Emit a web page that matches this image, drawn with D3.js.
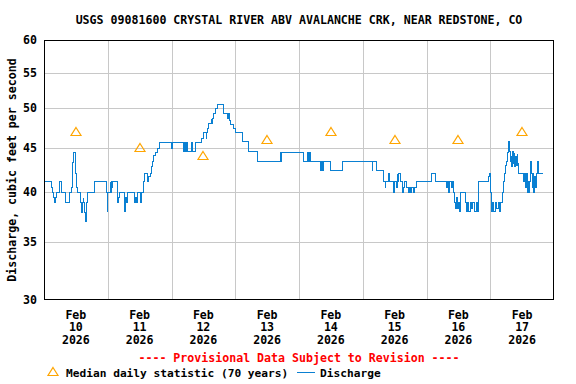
<!DOCTYPE html>
<html>
<head>
<meta charset="utf-8">
<script src="https://cdn.jsdelivr.net/npm/d3@7"></script>
<style>
  body { margin: 0; background: #fff; }
  svg text { font-family: "DejaVu Sans Mono", monospace; font-weight: bold; font-size: 11.6px; fill: #000; }
  svg text.legend { font-size: 11.2px; }
</style>
</head>
<body>
<div id="chart"></div>
<script>
const title = "USGS 09081600 CRYSTAL RIVER ABV AVALANCHE CRK, NEAR REDSTONE, CO";
const yLabel = "Discharge, cubic feet per second";
const provisional = "---- Provisional Data Subject to Revision ----";
const yTicks = [30, 35, 40, 45, 50, 55, 60];
const dayLabels = [
  ["Feb", "10", "2026"], ["Feb", "11", "2026"], ["Feb", "12", "2026"], ["Feb", "13", "2026"],
  ["Feb", "14", "2026"], ["Feb", "15", "2026"], ["Feb", "16", "2026"], ["Feb", "17", "2026"]
];

// median daily statistic, one per day (plotted at noon)
const medianCfs = [47, 45, 44, 46, 47, 46, 46, 47];

// discharge, change points: hours since Feb 10 00:00 and value (cfs)
const flowHours = [
  0, 2.5, 2.9, 3.3, 3.75, 4.25, 4.5, 5.75, 6.5, 8.0, 9.5, 10.25, 10.4, 10.5, 10.65, 10.8,
  11.55, 11.8, 11.9, 12.15, 12.4, 13.55, 13.9, 14.3, 14.55, 14.8, 15.05, 15.55, 15.8, 16.1,
  18.95, 23.35, 23.55, 23.9, 24.75, 24.95, 25.2, 25.5, 25.7, 27.5, 27.65, 27.85, 28.05,
  30.1, 30.5, 30.75, 31.15, 33.9, 34.25, 34.5, 34.9, 36.15, 36.5, 37.25, 37.45, 37.75,
  38.9, 39.25, 39.9, 40.3, 40.55, 41.15, 41.8, 42.45, 43.3, 47.8, 48.3, 52.45, 52.8, 53.1,
  53.45, 53.7, 55.35, 55.6, 56.85, 59.0, 59.75, 60.9, 61.1, 61.5, 61.85, 62.75, 63.0,
  63.25, 63.5, 64.4, 65.0, 67.3, 69.0, 69.45, 69.65, 70.0, 71.25, 71.9, 74.45, 76.9,
  80.1, 80.3, 88.85, 89.1, 89.35, 97.6, 99.1, 99.4, 99.6, 100.15, 103.9, 104.4, 104.65,
  105.05, 107.65, 112.3, 123.35, 123.65, 124.9, 127.75, 128.4, 128.55, 129.4, 129.75,
  131.25, 131.6, 131.9, 132.35, 132.8, 133.0, 133.25, 134.0, 134.8, 135.15, 135.65,
  136.3, 136.9, 137.4, 137.8, 138.15, 138.9, 139.3, 140.05, 145.7, 147.3, 151.35, 151.7,
  152.1, 152.45, 153.05, 153.6, 154.0, 154.35, 154.75, 155.1, 155.5, 155.85, 156.25,
  156.6, 158.5, 158.9, 159.25, 159.8, 160.4, 160.75, 161.3, 161.9, 162.45, 163.0, 163.5,
  167.25, 167.5, 167.9, 168.15, 168.55, 169.05, 169.6, 170.15, 170.75, 171.3, 171.65,
  172.3, 172.9, 173.3, 173.55, 173.95, 174.4, 174.8, 175.2, 175.45, 175.7, 175.95, 176.2,
  176.45, 176.75, 177.05, 177.3, 177.6, 177.9, 178.2, 178.55, 180.45, 180.7, 181.1,
  181.35, 181.7, 181.95, 182.2, 182.6, 182.95, 183.2, 183.6, 183.85, 184.1, 184.5,
  184.85, 185.2, 185.5, 186.1, 187.35
];
const flowCfs = [
  41.2, 40.6, 40.0, 39.5, 39.0, 39.5, 40.0, 41.2, 40.0, 39.0, 40.0, 40.6, 41.2, 42.1, 43.3, 44.5,
  43.3, 42.1, 41.2, 40.6, 40.0, 39.0, 37.9, 39.0, 39.5, 39.0, 37.9, 37.0, 39.0, 40.0,
  41.2, 40.0, 38.0, 40.0, 41.2, 40.0, 41.2, 40.6, 41.2, 40.0, 39.0, 39.5, 40.0,
  38.0, 39.5, 39.0, 40.0, 39.0, 39.5, 39.0, 40.0, 39.0, 40.0, 40.6, 41.2, 42.1,
  41.2, 41.8, 42.1, 42.9, 43.4, 44.1, 44.5, 45.0, 45.7, 45.0, 45.7, 44.6, 45.7, 44.6,
  45.7, 44.6, 45.7, 44.6, 45.7, 46.2, 46.9, 46.2, 46.9, 47.5, 48.1, 48.8, 48.1,
  48.8, 49.4, 50.0, 50.6, 49.4, 48.8, 49.4, 48.5, 48.0, 47.5, 46.9, 45.8, 44.6,
  44.0, 43.5, 44.5, 43.5, 44.5, 43.5, 44.5, 43.5, 44.5, 43.5, 42.4, 43.5, 42.4,
  43.5, 42.4, 43.5, 42.4, 43.5, 42.4, 41.2, 40.6, 41.2, 42.1, 41.2,
  40.0, 40.6, 41.2, 40.6, 42.1, 41.2, 42.1, 41.2, 40.0, 40.6, 41.2,
  40.6, 40.0, 40.6, 40.0, 40.6, 40.0, 40.6, 41.2, 42.1, 41.2, 40.6, 41.2,
  40.0, 41.2, 40.6, 41.2, 40.0, 39.0, 38.3, 39.5, 38.3, 39.0, 38.0,
  40.0, 39.0, 38.0, 39.0, 38.0, 39.0, 38.3, 39.0, 38.0, 39.0, 38.0, 41.2,
  41.8, 42.1, 40.0, 38.0, 39.0, 38.0, 39.0, 38.3, 39.0, 38.0, 39.0,
  40.0, 41.2, 42.1, 43.0, 43.5, 44.5, 45.8, 44.6, 43.5, 44.2, 42.9, 44.6,
  43.2, 44.4, 42.9, 44.0, 43.0, 44.4, 43.2, 42.1, 41.2, 42.1, 40.6,
  42.1, 40.0, 41.2, 40.0, 41.2, 43.4, 42.1, 40.6, 42.1, 40.0, 41.8,
  40.6, 42.1, 43.4, 42.1, 42.1
];

const width = 576, height = 384;
const margin = { top: 40, right: 22, bottom: 84, left: 44 };
const start = new Date(2026, 1, 10);
const end = new Date(2026, 1, 18);
const hour = 3600 * 1000;
const atHour = h => new Date(start.getTime() + h * hour);

const svg = d3.select("#chart").append("svg")
  .attr("width", width)
  .attr("height", height);

const x = d3.scaleTime()
  .domain([start, end])
  .range([margin.left, width - margin.right]);

const y = d3.scaleLog()
  .domain([30, 60])
  .range([height - margin.bottom, margin.top]);

const px = v => Math.round(v) + 0.5;

// grid
const days = d3.timeDay.range(d3.timeDay.offset(start, 1), end);
svg.append("g")
  .selectAll("line")
  .data(days)
  .join("line")
  .attr("x1", d => px(x(d))).attr("x2", d => px(x(d)))
  .attr("y1", margin.top).attr("y2", height - margin.bottom)
  .attr("stroke", "#c8c8c8")
  .attr("shape-rendering", "crispEdges");

svg.append("g")
  .selectAll("line")
  .data(yTicks.slice(1, -1))
  .join("line")
  .attr("x1", margin.left).attr("x2", width - margin.right)
  .attr("y1", d => px(y(d))).attr("y2", d => px(y(d)))
  .attr("stroke", "#c8c8c8")
  .attr("shape-rendering", "crispEdges");

// y tick labels
svg.append("g")
  .selectAll("text")
  .data(yTicks)
  .join("text")
  .attr("x", margin.left - 7)
  .attr("y", d => y(d) + 4)
  .attr("text-anchor", "end")
  .text(d => d);

// x labels, centred on noon of each day
const xl = svg.append("g")
  .selectAll("text")
  .data(dayLabels)
  .join("text")
  .attr("text-anchor", "middle");
xl.each(function(d, i) {
  const cx = x(atHour(i * 24 + 12));
  d3.select(this).selectAll("tspan")
    .data(d)
    .join("tspan")
    .attr("x", cx)
    .attr("y", (t, j) => 318.5 + j * 12.8)
    .text(t => t);
});

// discharge
const line = d3.line()
  .x((d, i) => Math.round(x(atHour(flowHours[i]))) + 0.5)
  .y(d => Math.round(y(d)) + 0.5)
  .curve(d3.curveStepAfter);

svg.append("path")
  .datum(flowCfs)
  .attr("d", line)
  .attr("fill", "none")
  .attr("stroke", "#0a80d2")
  .attr("stroke-width", 1)
  .attr("shape-rendering", "crispEdges");

// median triangles
const tri = "M0,-4.5L5,3.5L-5,3.5Z";
svg.append("g")
  .selectAll("path")
  .data(medianCfs)
  .join("path")
  .attr("transform", (d, i) => `translate(${Math.round(x(atHour(i * 24 + 12)))},${Math.round(y(d))})`)
  .attr("d", tri)
  .attr("fill", "none")
  .attr("stroke", "#ffa500")
  .attr("stroke-width", 1.2);

// frame
svg.append("rect")
  .attr("x", margin.left + 0.5)
  .attr("y", margin.top + 0.5)
  .attr("width", width - margin.left - margin.right - 1)
  .attr("height", height - margin.top - margin.bottom - 1)
  .attr("fill", "none")
  .attr("stroke", "#000")
  .attr("shape-rendering", "crispEdges");

// titles
const cx = (margin.left + width - margin.right) / 2;
svg.append("text")
  .attr("x", cx)
  .attr("y", 24)
  .attr("text-anchor", "middle")
  .text(title);

svg.append("text")
  .attr("transform", `translate(16,${(margin.top + height - margin.bottom) / 2}) rotate(-90)`)
  .attr("text-anchor", "middle")
  .text(yLabel);

svg.append("text")
  .attr("x", cx)
  .attr("y", 362)
  .attr("text-anchor", "middle")
  .style("fill", "#ff0000")
  .text(provisional);

// legend
svg.append("path")
  .attr("transform", "translate(53,372)")
  .attr("d", tri)
  .attr("fill", "none")
  .attr("stroke", "#ffa500")
  .attr("stroke-width", 1.2);

svg.append("text")
  .attr("class", "legend")
  .attr("x", 66)
  .attr("y", 376.5)
  .text("Median daily statistic (70 years)");

svg.append("line")
  .attr("x1", 297).attr("x2", 315)
  .attr("y1", 372.5).attr("y2", 372.5)
  .attr("stroke", "#0a80d2")
  .attr("shape-rendering", "crispEdges");

svg.append("text")
  .attr("class", "legend")
  .attr("x", 320)
  .attr("y", 376.5)
  .text("Discharge");
</script>
</body>
</html>
